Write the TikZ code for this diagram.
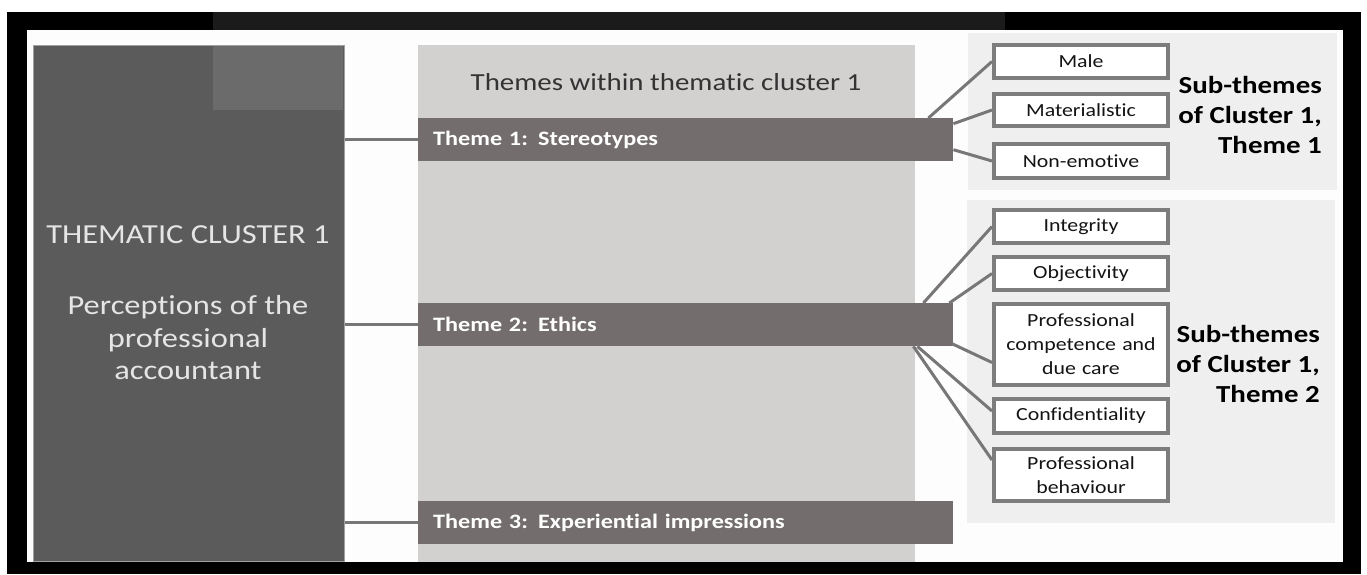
\documentclass[tikz,border=0pt]{standalone}
\usepackage{fontspec}
\setmainfont{Carlito}[FakeStretch=1.18, Ligatures={NoCommon}]
\usetikzlibrary{calc}

\definecolor{topband}{HTML}{1B1B1B}
\definecolor{sheet}{HTML}{FDFDFD}
\definecolor{clusterfill}{HTML}{5B5B5B}
\definecolor{clustertint}{HTML}{6B6B6B}
\definecolor{clusteredge}{HTML}{A0A0A0}
\definecolor{panelfill}{HTML}{D3D0D0}
\definecolor{barfill}{HTML}{736D6D}
\definecolor{linkcol}{HTML}{787676}
\definecolor{boxedge}{HTML}{7D7D7D}
\definecolor{subpanel}{HTML}{EFEFEF}
\definecolor{headtext}{HTML}{333333}

\tikzset{
  clusterbox/.style={draw=clusteredge, line width=1.2pt, fill=clusterfill,
    inner sep=0pt, anchor=north west},
  clustertext/.style={text=white!90!black, align=center, inner sep=0pt},
  themepanel/.style={fill=panelfill, inner sep=0pt, anchor=north west},
  themebar/.style={fill=barfill, text=white, anchor=north west,
    minimum height=43pt, text width=505pt, inner xsep=15pt, inner ysep=0pt,
    align=left, font=\bfseries\fontsize{20.5}{22}\selectfont},
  subbox/.style={draw=boxedge, line width=4pt, fill=white, text=black!92,
    minimum width=174pt, text width=170pt, align=center, inner sep=0pt,
    font=\fontsize{18.5}{24}\selectfont},
  sublabel/.style={align=right, anchor=east, text=black, inner sep=0pt,
    font=\bfseries\fontsize{24.5}{30}\selectfont},
  link/.style={draw=linkcol, line width=3pt}
}

\begin{document}
\begin{tikzpicture}[x=1pt, y=-1pt]
  \useasboundingbox (0,0) rectangle (1367,574);
  % page, black frame and white sheet
  \fill[white] (0,0) rectangle (1367,574);
  \fill[black] (7,12) rectangle (1361,574);
  \fill[topband] (213,12) rectangle (1005,30);
  \fill[sheet] (27,30) rectangle (1343,562);

  % thematic cluster block
  \node[clusterbox, minimum width=311pt, minimum height=516pt] (cl) at (33,45) {};
  \fill[clustertint] (213,45.6) rectangle (343.4,110);
  \node[clustertext, font=\fontsize{27.5}{32}\selectfont] (cltitle) at (188,235)
    {THEMATIC CLUSTER 1};
  \node[clustertext, font=\fontsize{27.5}{32.5}\selectfont] (clsub) at (188,338)
    {Perceptions of the\\professional\\accountant};

  % themes column
  \node[themepanel, minimum width=497pt, minimum height=517pt] (mid) at (418,45) {};
  \node[text=headtext, inner sep=0pt, font=\fontsize{24.5}{26}\selectfont] (hdr)
    at (666,82) {Themes within thematic cluster 1};

  \node[themebar] (t1) at (418,118) {Theme 1: Stereotypes};
  \node[themebar] (t2) at (418,303) {Theme 2: Ethics};
  \node[themebar] (t3) at (418,501) {Theme 3: Experiential impressions};

  \draw[link] (cl.east |- t1.west) -- (t1.west);
  \draw[link] (cl.east |- t2.west) -- (t2.west);
  \draw[link] (cl.east |- t3.west) -- (t3.west);

  % sub-theme panels
  \fill[subpanel] (968,33) rectangle (1337,190);
  \fill[subpanel] (967,200) rectangle (1335,523);

  % sub-themes of theme 1
  \node[subbox, minimum height=33pt] (male) at (1081,61.5) {Male};
  \node[subbox, minimum height=32pt] (mat) at (1081,110) {Materialistic};
  \node[subbox, minimum height=34pt] (nonem) at (1081,161) {Non-emotive};

  \node[sublabel] (lab1) at (1322,115)
    {Sub-themes\\of Cluster 1,\\Theme 1};

  % sub-themes of theme 2
  \node[subbox, minimum height=33pt] (integ) at (1081,226.5) {Integrity};
  \node[subbox, minimum height=33pt] (obj) at (1081,273.5) {Objectivity};
  \node[subbox, minimum height=81pt] (comp) at (1081,344.5)
    {Professional\\competence and\\due care};
  \node[subbox, minimum height=34pt] (conf) at (1081,416) {Confidentiality};
  \node[subbox, minimum height=52pt] (behav) at (1081,475)
    {Professional\\behaviour};

  \node[sublabel] (lab2) at (1320,364)
    {Sub-themes\\of Cluster 1,\\Theme 2};

  % links from theme 1
  \draw[link] ($(t1.north east)+(-25,0)$) -- (male.west);
  \draw[link] ($(t1.east)+(0,-16)$) -- (mat.west);
  \draw[link] ($(t1.east)+(0,10)$) -- (nonem.west);

  % links from theme 2
  \draw[link] ($(t2.north east)+(-30,0)$) -- (integ.west);
  \draw[link] ($(t2.north east)+(-4,0)$) -- (obj.west);
  \draw[link] ($(t2.south east)+(-2,-3)$) -- ($(comp.west)+(0,18)$);
  \draw[link] ($(t2.south east)+(-36,0)$) -- ($(conf.west)+(0,-5)$);
  \draw[link] ($(t2.south east)+(-40,0)$) -- ($(behav.west)+(0,-15)$);
\end{tikzpicture}
\end{document}
